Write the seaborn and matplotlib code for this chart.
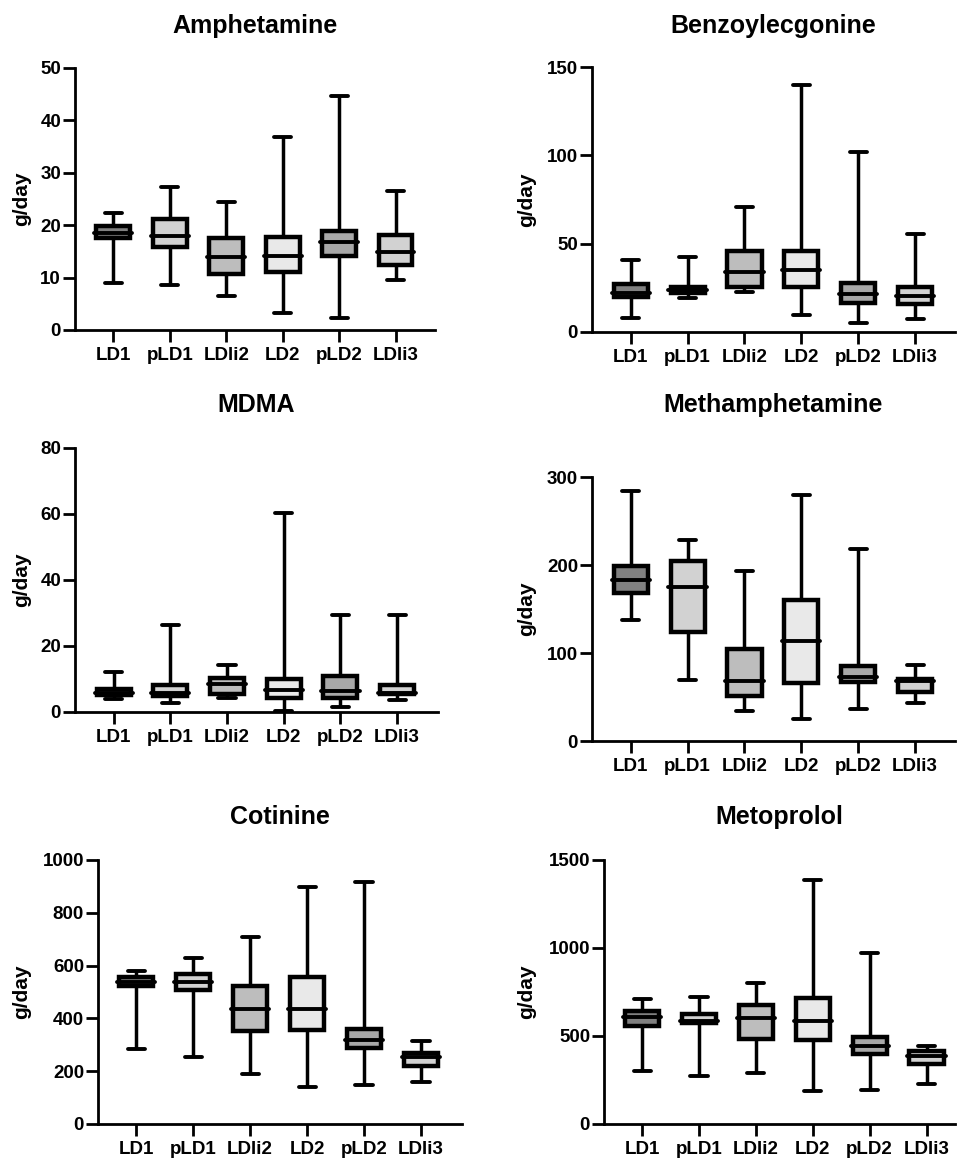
import numpy as np
import matplotlib
matplotlib.use("Agg")
import matplotlib.pyplot as plt
import seaborn as sns
import pandas as pd

#################################################
#   DATA: five-number summaries (min, Q1, median, Q3, max) per site
#################################################
sites = ["LD1", "pLD1", "LDli2", "LD2", "pLD2", "LDli3"]

amphetamine = [
    [9.0, 17.5, 18.5, 19.9, 22.3],
    [8.6, 15.9, 18.0, 21.1, 27.2],
    [6.4, 10.7, 13.9, 17.6, 24.5],
    [3.2, 11.0, 14.2, 17.8, 36.8],
    [2.2, 14.1, 16.8, 18.9, 44.6],
    [9.6, 12.4, 14.8, 18.1, 26.6],
]
benzoylecgonine = [
    [7.9, 19.9, 21.8, 27.4, 41.0],
    [19.5, 21.8, 23.6, 25.2, 42.6],
    [22.5, 25.2, 34.0, 45.8, 70.5],
    [9.5, 25.2, 35.0, 45.8, 139.6],
    [5.1, 16.5, 21.4, 27.8, 102.1],
    [7.6, 16.1, 20.4, 25.2, 55.4],
]
mdma = [
    [4.0, 5.1, 5.8, 7.1, 12.1],
    [2.8, 4.7, 5.9, 8.3, 26.3],
    [4.2, 5.6, 8.4, 10.4, 14.1],
    [0.3, 4.3, 6.6, 10.1, 60.3],
    [1.5, 4.3, 6.4, 10.8, 29.3],
    [3.7, 5.6, 5.9, 8.1, 29.3],
]
methamphetamine = [
    [137.7, 168.7, 182.4, 199.4, 284.0],
    [69.6, 124.1, 174.8, 204.7, 228.1],
    [33.7, 51.1, 68.5, 104.4, 193.7],
    [25.3, 66.2, 113.9, 160.0, 279.6],
    [36.7, 67.3, 72.3, 85.1, 217.9],
    [42.8, 56.0, 68.5, 70.0, 85.9],
]
cotinine = [
    [284, 521, 539, 555, 580],
    [252, 508, 536, 567, 628],
    [189, 351, 435, 521, 707],
    [142, 357, 435, 555, 897],
    [149, 288, 317, 359, 918],
    [158, 218, 253, 269, 313],
]
metoprolol = [
    [299, 554, 607, 643, 709],
    [274, 573, 588, 624, 724],
    [289, 484, 601, 677, 800],
    [185, 478, 583, 715, 1386],
    [195, 397, 441, 497, 970],
    [229, 342, 384, 412, 444],
]

titles = ["Amphetamine", "Benzoylecgonine", "MDMA",
          "Methamphetamine", "Cotinine", "Metoprolol"]
yticks_list = [
    [0, 10, 20, 30, 40, 50],
    [0, 50, 100, 150],
    [0, 20, 40, 60, 80],
    [0, 100, 200, 300],
    [0, 200, 400, 600, 800, 1000],
    [0, 500, 1000, 1500],
]

box_colors = ["#808080", "#d2d2d2", "#bdbdbd", "#e9e9e9", "#a8a8a8", "#d2d2d2"]

#################################################
#   LAYOUT (pixel boxes: left, right, top, bottom)
#################################################
W, H = 957, 1159
panels = [
    (75, 435, 68, 330),
    (592, 955, 67, 332),
    (75, 438, 448, 712),
    (592, 955, 477, 741),
    (98, 462, 860, 1124),
    (604, 955, 860, 1124),
]
xlims = [(-0.68, 5.7), (-0.68, 5.7), (-0.68, 5.72), (-0.68, 5.7),
         (-0.67, 5.72), (-0.67, 5.5)]
title_y = [26, 26, 405, 405, 817, 817]
ylabel_x = [22, 527, 22, 527, 22, 527]

plt.rcParams['font.family'] = ['Liberation Sans', 'DejaVu Sans']
plt.rcParams['font.weight'] = 'bold'

fig = plt.figure(figsize=(W / 100, H / 100), dpi=100)

all_data = [amphetamine, benzoylecgonine, mdma, methamphetamine, cotinine, metoprolol]

for k, summ in enumerate(all_data):
    l, r, t, b = panels[k]
    ax = fig.add_axes([l / W, 1 - b / H, (r - l) / W, (b - t) / H])

    rows = []
    for site, vals in zip(sites, summ):
        for v in vals:
            rows.append({"site": site, "value": v})
    df = pd.DataFrame(rows)

    sns.boxplot(
        data=df, x="site", y="value", hue="site", order=sites,
        palette=box_colors, saturation=1, legend=False,
        whis=(0, 100), width=0.6, linewidth=3.2, linecolor="black",
        medianprops=dict(linewidth=2.8, solid_capstyle="round"),
        whiskerprops=dict(linewidth=2.5),
        capprops=dict(linewidth=2.8, solid_capstyle="round"),
        ax=ax,
    )

    # medians stick out a little past the box, as in the original
    for cont in ax.containers:
        for med in getattr(cont, "medians", []):
            xd = np.asarray(med.get_xdata(), dtype=float)
            mid = xd.mean()
            med.set_xdata(mid + (xd - mid) * 1.12)

    ax.set_xlim(*xlims[k])
    yt = yticks_list[k]
    ax.set_ylim(0, yt[-1])
    ax.set_yticks(yt)
    ax.set_xlabel("")
    ax.set_ylabel("")

    for side in ["top", "right"]:
        ax.spines[side].set_visible(False)
    for side in ["left", "bottom"]:
        ax.spines[side].set_linewidth(2.0)
    ax.tick_params(axis="both", width=2.0, length=8.5, labelsize=13.5)
    ax.tick_params(axis="y", pad=1.5)
    ax.tick_params(axis="x", pad=4)
    for lab in ax.get_xticklabels() + ax.get_yticklabels():
        lab.set_fontweight("bold")

    fig.text((l + r) / 2 / W, 1 - title_y[k] / H, titles[k],
             ha="center", va="center", fontsize=18, fontweight="bold")
    fig.text(ylabel_x[k] / W, 1 - (t + b) / 2 / H, "g/day", rotation=90,
             ha="center", va="center", fontsize=15, fontweight="bold")

fig.savefig("out.png", dpi=100)
